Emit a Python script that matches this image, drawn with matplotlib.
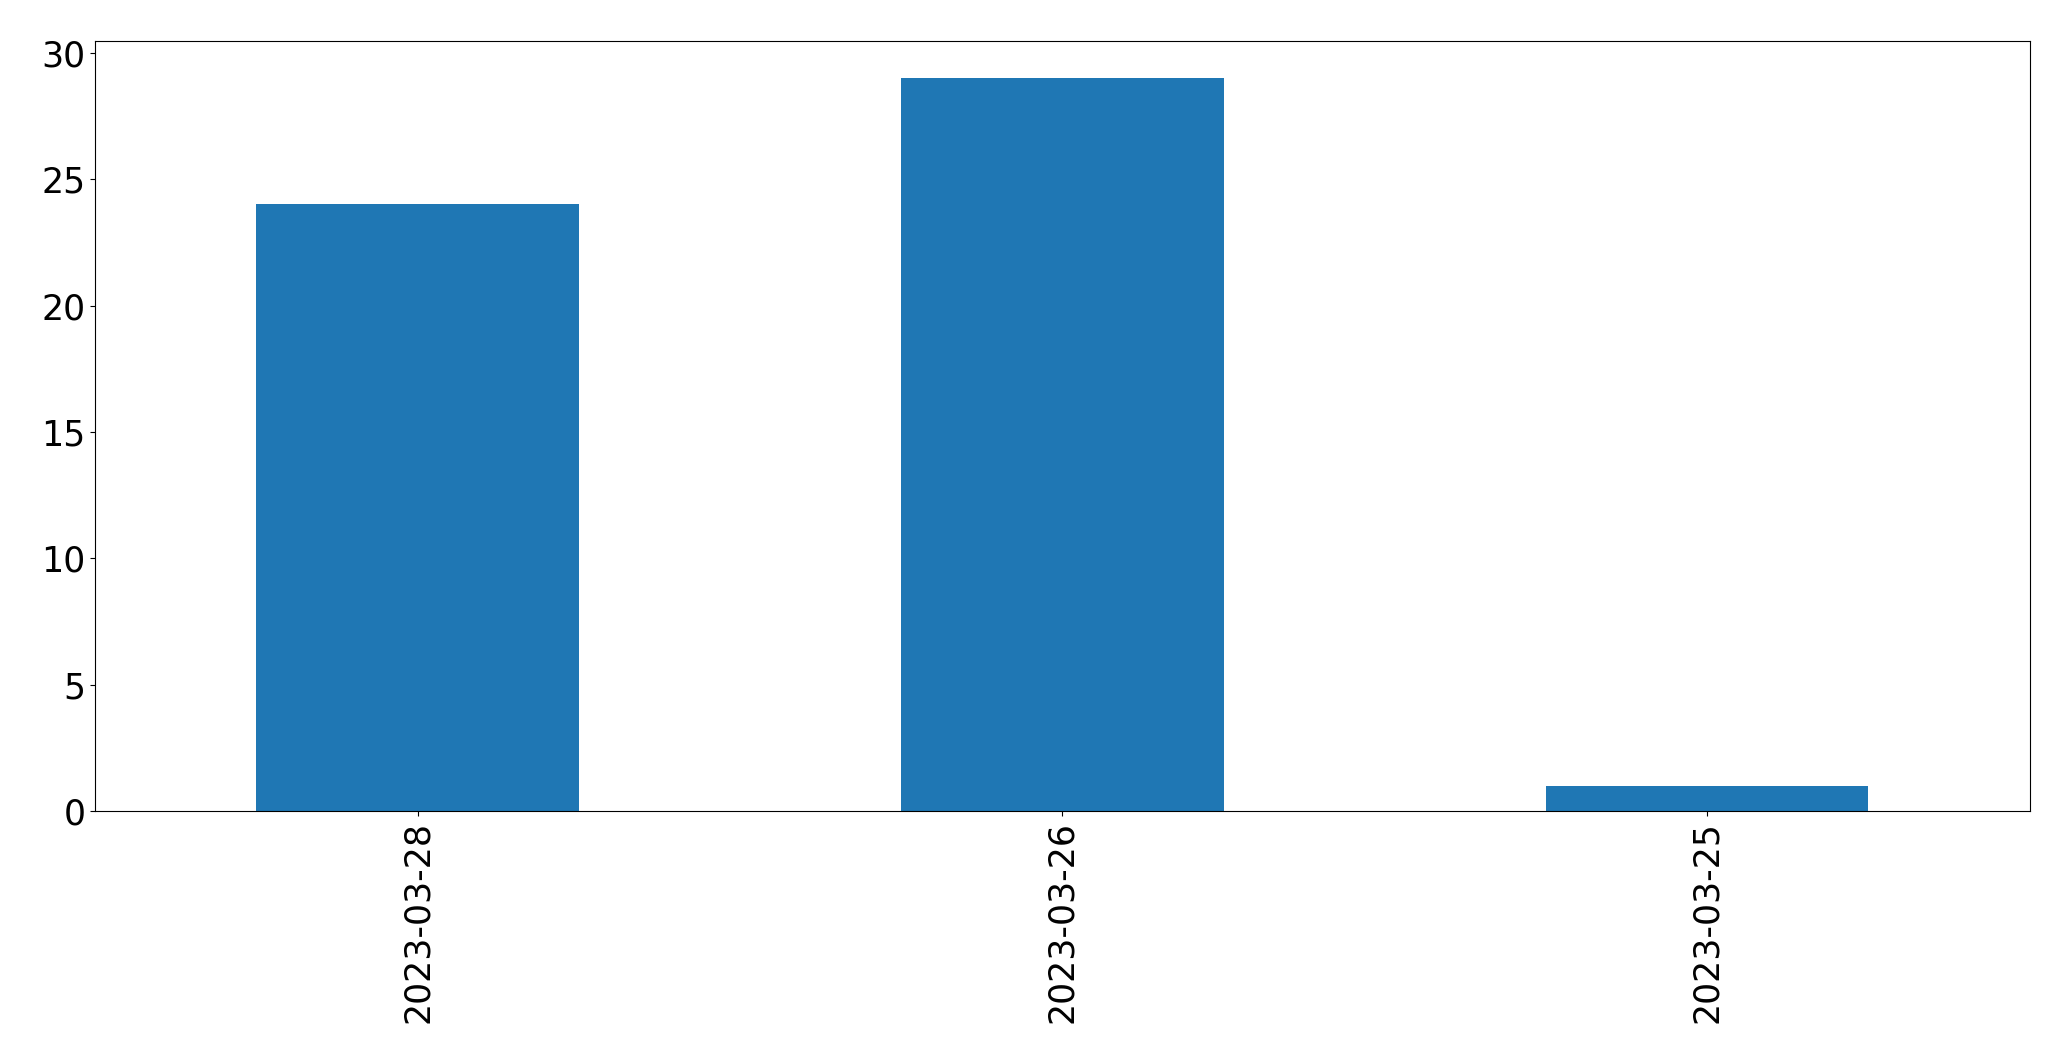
import pandas as pd
import matplotlib
matplotlib.use('Agg')
import matplotlib.pyplot as plt

dates = ['2023-03-28', '2023-03-26', '2023-03-25']
counts = [24, 29, 1]

s = pd.Series(counts, index=dates)

fig, ax = plt.subplots(figsize=(20.71, 10.63), dpi=100)
s.plot(kind='bar', ax=ax, fontsize=25)
ax.tick_params(axis='both', labelsize=25)
fig.subplots_adjust(left=0.046, right=0.980, top=0.961, bottom=0.237)
fig.savefig('out.png', dpi=100)
